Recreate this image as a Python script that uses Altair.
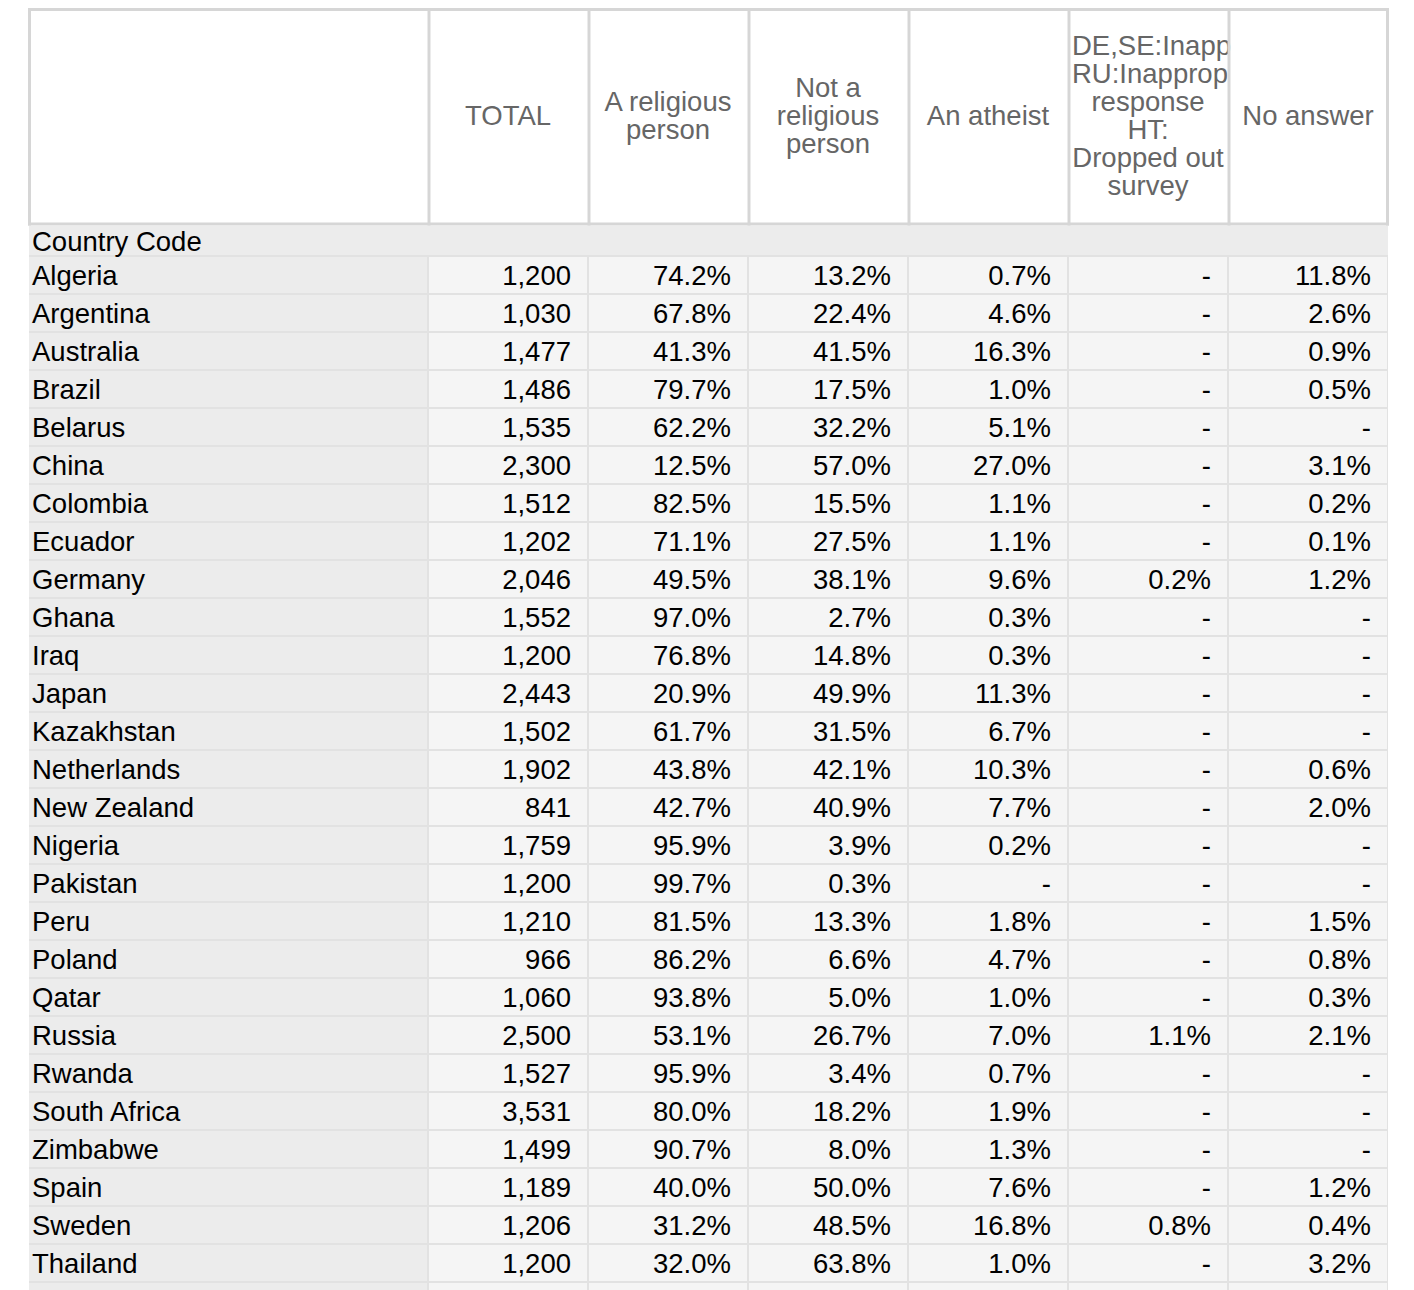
import altair as alt
import pandas as pd

# ---------------- data ----------------
countries = ["Algeria", "Argentina", "Australia", "Brazil", "Belarus", "China",
             "Colombia", "Ecuador", "Germany", "Ghana", "Iraq", "Japan",
             "Kazakhstan", "Netherlands", "New Zealand", "Nigeria", "Pakistan",
             "Peru", "Poland", "Qatar", "Russia", "Rwanda", "South Africa",
             "Zimbabwe", "Spain", "Sweden", "Thailand"]
total = [1200, 1030, 1477, 1486, 1535, 2300, 1512, 1202, 2046, 1552, 1200, 2443,
         1502, 1902, 841, 1759, 1200, 1210, 966, 1060, 2500, 1527, 3531, 1499,
         1189, 1206, 1200]
religious = [74.2, 67.8, 41.3, 79.7, 62.2, 12.5, 82.5, 71.1, 49.5, 97.0, 76.8, 20.9,
             61.7, 43.8, 42.7, 95.9, 99.7, 81.5, 86.2, 93.8, 53.1, 95.9, 80.0, 90.7,
             40.0, 31.2, 32.0]
not_religious = [13.2, 22.4, 41.5, 17.5, 32.2, 57.0, 15.5, 27.5, 38.1, 2.7, 14.8, 49.9,
                 31.5, 42.1, 40.9, 3.9, 0.3, 13.3, 6.6, 5.0, 26.7, 3.4, 18.2, 8.0,
                 50.0, 48.5, 63.8]
atheist = [0.7, 4.6, 16.3, 1.0, 5.1, 27.0, 1.1, 1.1, 9.6, 0.3, 0.3, 11.3,
           6.7, 10.3, 7.7, 0.2, None, 1.8, 4.7, 1.0, 7.0, 0.7, 1.9, 1.3,
           7.6, 16.8, 1.0]
inappropriate = [None, None, None, None, None, None, None, None, 0.2, None, None, None,
                 None, None, None, None, None, None, None, None, 1.1, None, None, None,
                 None, 0.8, None]
no_answer = [11.8, 2.6, 0.9, 0.5, None, 3.1, 0.2, 0.1, 1.2, None, None, None,
             None, 0.6, 2.0, None, None, 1.5, 0.8, 0.3, 2.1, None, None, None,
             1.2, 0.4, 3.2]

header_lines = [
    ["TOTAL"],
    ["A religious", "person"],
    ["Not a", "religious", "person"],
    ["An atheist"],
    ["DE,SE:Inapp", "RU:Inapprop", "response", "HT:", "Dropped out", "survey"],
    ["No answer"],
]
row_header = "Country Code"

# ---------------- layout (page pixel units) ----------------
X0, Y0 = 8, 8
W, H = 1398, 1290 - Y0
ROW0_TOP, ROW_H, CELL_H = 257, 38, 36
LABEL_X0, LABEL_X1 = 30, 427
COL_X0, COL_STEP, CELL_W = 429, 160, 158
TABLE_X1 = 1388
FONT = "Liberation Sans"
FS = 27.5

xs = alt.Scale(domain=[X0, X0 + W], nice=False, zero=False)
ys = alt.Scale(domain=[Y0, Y0 + H], nice=False, zero=False, reverse=True)


def fmt_pct(v):
    return "-" if v is None else f"{v:.1f}%"


columns = [[f"{t:,}" for t in total],
           [fmt_pct(v) for v in religious],
           [fmt_pct(v) for v in not_religious],
           [fmt_pct(v) for v in atheist],
           [fmt_pct(v) for v in inappropriate],
           [fmt_pct(v) for v in no_answer]]

# background / cell rects
rects = [dict(x=LABEL_X0 - 1, x2=TABLE_X1, y=255, y2=Y0 + H, fill="#e2e2e2"),
         dict(x=LABEL_X0 - 1, x2=TABLE_X1, y=226, y2=255, fill="#ececec")]
for i in range(len(countries) + 1):
    top = ROW0_TOP + ROW_H * i
    rects.append(dict(x=LABEL_X0 - 1, x2=LABEL_X1, y=top, y2=top + CELL_H, fill="#ececec"))
    for k in range(len(columns)):
        x0 = COL_X0 + COL_STEP * k
        rects.append(dict(x=x0, x2=x0 + CELL_W, y=top, y2=top + CELL_H, fill="#f5f5f5"))
rect_df = pd.DataFrame(rects)

rect_layer = alt.Chart(rect_df).mark_rect(clip=True).encode(
    x=alt.X("x:Q", scale=xs, axis=None), x2="x2:Q",
    y=alt.Y("y:Q", scale=ys, axis=None), y2="y2:Q",
    color=alt.Color("fill:N", scale=None, legend=None),
)

# header borders
vx = [LABEL_X0 - 0.5] + [COL_X0 + COL_STEP * k for k in range(len(columns))] + [TABLE_X1 - 0.5]
vdf = pd.DataFrame({"x": vx, "y": [Y0] * len(vx), "y2": [225.5] * len(vx)})
vrules = alt.Chart(vdf).mark_rule(color="#d6d6d6", strokeWidth=3).encode(
    x=alt.X("x:Q", scale=xs, axis=None),
    y=alt.Y("y:Q", scale=ys, axis=None), y2="y2:Q",
)
hdf = pd.DataFrame({"y": [Y0 + 1.5, 224], "x": [LABEL_X0 - 2, LABEL_X0 - 2],
                    "x2": [TABLE_X1 + 1, TABLE_X1 + 1]})
hrules = alt.Chart(hdf).mark_rule(color="#d6d6d6", strokeWidth=3).encode(
    x=alt.X("x:Q", scale=xs, axis=None), x2="x2:Q",
    y=alt.Y("y:Q", scale=ys, axis=None),
)

# header text
hc, hl = [], []
for k, lines in enumerate(header_lines):
    n = len(lines)
    cx = COL_X0 + COL_STEP * k + CELL_W / 2
    for j, t in enumerate(lines):
        yb = 125 + 28 * (j - (n - 1) / 2)
        if k == 4 and j < 2:
            hl.append(dict(x=COL_X0 + COL_STEP * k + 3, y=yb, label=t))
        else:
            hc.append(dict(x=cx, y=yb, label=t))
head_center = alt.Chart(pd.DataFrame(hc)).mark_text(
    font=FONT, fontSize=FS, align="center", baseline="alphabetic", color="#666666"
).encode(x=alt.X("x:Q", scale=xs, axis=None), y=alt.Y("y:Q", scale=ys, axis=None),
         text="label:N")
head_left = alt.Chart(pd.DataFrame(hl)).mark_text(
    font=FONT, fontSize=FS, align="left", baseline="alphabetic", color="#666666"
).encode(x=alt.X("x:Q", scale=xs, axis=None), y=alt.Y("y:Q", scale=ys, axis=None),
         text="label:N")

# row labels
lab = [dict(x=LABEL_X0 + 2, y=251, label=row_header)]
for i, c in enumerate(countries):
    lab.append(dict(x=LABEL_X0 + 2, y=ROW0_TOP + ROW_H * i + 28, label=c))
label_layer = alt.Chart(pd.DataFrame(lab)).mark_text(
    font=FONT, fontSize=FS, align="left", baseline="alphabetic", color="#000000"
).encode(x=alt.X("x:Q", scale=xs, axis=None), y=alt.Y("y:Q", scale=ys, axis=None),
         text="label:N")

# values
vals = []
for k, col in enumerate(columns):
    for i, v in enumerate(col):
        vals.append(dict(x=COL_X0 + COL_STEP * k + CELL_W - 16,
                         y=ROW0_TOP + ROW_H * i + 28, label=v))
value_layer = alt.Chart(pd.DataFrame(vals)).mark_text(
    font=FONT, fontSize=FS, align="right", baseline="alphabetic", color="#000000"
).encode(x=alt.X("x:Q", scale=xs, axis=None), y=alt.Y("y:Q", scale=ys, axis=None),
         text="label:N")

chart = alt.layer(
    rect_layer, head_center, head_left, vrules, hrules, label_layer, value_layer
).properties(
    width=W, height=H, padding=0, background="white",
    autosize=alt.AutoSizeParams(type="none"),
).configure_view(stroke=None)

chart.save("out.html", embed_options={"renderer": "svg", "actions": False})
